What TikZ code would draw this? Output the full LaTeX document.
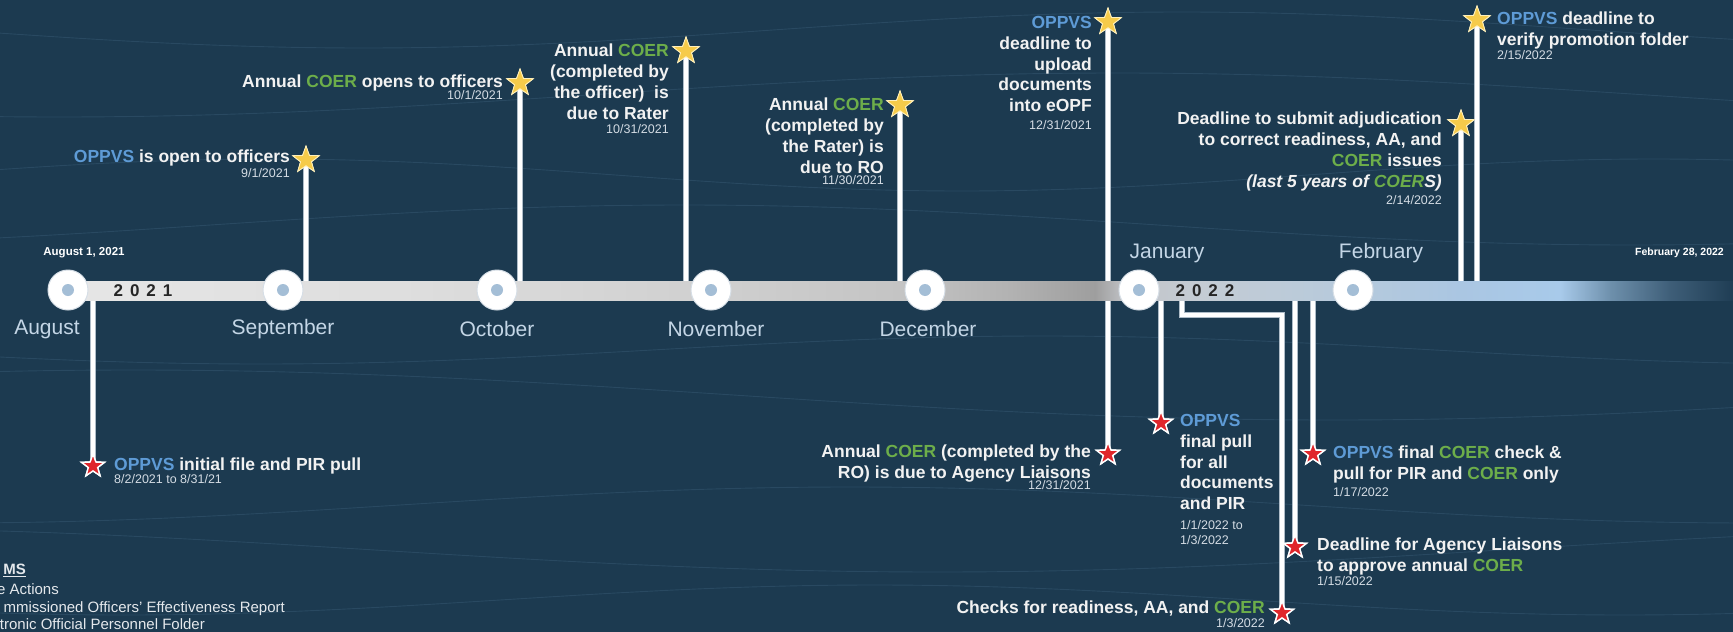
\documentclass[tikz,border=0pt]{standalone}
\usepackage{fontspec}
\setmainfont{Liberation Sans}
\usetikzlibrary{shapes.geometric}
\definecolor{bg}{HTML}{1C3A50}
\definecolor{txtw}{HTML}{F2F2F2}
\definecolor{datec}{HTML}{D4DCE4}
\definecolor{monthc}{HTML}{C4D6E6}
\definecolor{legc}{HTML}{E4E8EC}
\definecolor{oppvsblue}{HTML}{5E9BD6}
\definecolor{coergreen}{HTML}{6DAE4A}
\definecolor{starY}{HTML}{F6CB4A}
\definecolor{starYedge}{HTML}{FFF0BC}
\definecolor{starR}{HTML}{E0262B}
\definecolor{stemedge}{HTML}{AEBCC8}
\definecolor{circedge}{HTML}{D6DEE6}
\definecolor{dotc}{HTML}{A4BED6}
\definecolor{contourc}{HTML}{3A5C76}
\definecolor{b0}{HTML}{E6E6E6}
\definecolor{b1}{HTML}{DEDEDE}
\definecolor{b2}{HTML}{D0D0D0}
\definecolor{b3}{HTML}{C4C4C4}
\definecolor{b4}{HTML}{B2B2B2}
\definecolor{b5}{HTML}{9E9E9E}
\definecolor{b6}{HTML}{C2C4C8}
\definecolor{b7}{HTML}{C4CCD4}
\definecolor{b8}{HTML}{B6CADC}
\definecolor{b9}{HTML}{AAC6E2}
\definecolor{b10}{HTML}{A8CAEA}
\definecolor{b11}{HTML}{6E90AC}
\definecolor{b12}{HTML}{3E5E78}
\definecolor{b13}{HTML}{1F3D54}
\newcommand\OPPVS{\textcolor{oppvsblue}{OPPVS}}
\newcommand\COER{\textcolor{coergreen}{COER}}
\begin{document}
\begin{tikzpicture}[x=1pt,y=-1pt,
  stem/.style={draw=stemedge, double=white, double distance=3.6pt, line width=0.9pt},
  ystar/.style={star, star points=5, star point ratio=2.45, minimum size=28pt, inner sep=0pt, fill=starY, draw=starYedge, line width=0.8pt},
  rstar/.style={star, star points=5, star point ratio=2.45, minimum size=24pt, inner sep=0pt, fill=starR, draw=white, line width=1.4pt},
  mcirc/.style={circle, minimum size=40pt, inner sep=0pt, fill=white, draw=circedge, line width=1pt},
  lbl/.style={font=\fontsize{17.5}{20.8}\selectfont\bfseries, text=txtw, inner sep=0pt},
  lblr/.style={lbl, align=right, anchor=north east},
  lbll/.style={lbl, align=left, anchor=north west},
  dt/.style={font=\fontsize{12.5}{15}\selectfont, text=datec, inner sep=0pt},
  dtr/.style={dt, anchor=mid east},
  dtl/.style={dt, anchor=mid west},
  month/.style={font=\fontsize{21}{24}\selectfont, text=monthc, inner sep=0pt},
  yr/.style={font=\fontsize{17}{20}\selectfont\bfseries, text=black!85, inner sep=0pt},
  edgedate/.style={font=\fontsize{11.5}{14}\selectfont\bfseries, text=white, inner sep=0pt},
  legend/.style={font=\fontsize{15}{18}\selectfont, text=legc, inner sep=0pt, anchor=mid east},
  contour/.style={draw=contourc, line width=0.9pt, opacity=0.45}
]
\useasboundingbox (0,0) rectangle (1733,632);
\clip (0,0) rectangle (1733,632);
\fill[bg] (0,0) rectangle (1733,632);

% faint contour lines
\foreach \c/\a/\f/\p in {30/18/0.22/10, 95/22/0.17/80, 175/16/0.26/200, 225/20/0.19/140, 350/14/0.23/30, 395/25/0.15/250, 505/18/0.2/100, 550/22/0.16/300, 600/15/0.24/60}
  \draw[contour] plot[domain=0:1733, samples=70, smooth] (\x,{\c+\a*sin(\f*\x+\p)});

% month circles positions
\coordinate (pAug) at (68,290);
\coordinate (pSep) at (283,290);
\coordinate (pOct) at (497,290);
\coordinate (pNov) at (711,290);
\coordinate (pDec) at (925,290);
\coordinate (pJan) at (1139,290);
\coordinate (pFeb) at (1353,290);

% stars
\node[ystar] (y1) at (306,160) {};
\node[ystar] (y2) at (520,83) {};
\node[ystar] (y3) at (686,51) {};
\node[ystar] (y4) at (900,105) {};
\node[ystar] (y5) at (1108,22) {};
\node[ystar] (y6) at (1461,124) {};
\node[ystar] (y7) at (1477,20) {};
\node[rstar] (r1) at (93,466) {};
\node[rstar] (r2) at (1108,454) {};
\node[rstar] (r3) at (1161,423) {};
\node[rstar] (r4) at (1282,613) {};
\node[rstar] (r5) at (1295,547) {};
\node[rstar] (r6) at (1313,454) {};

% bar anchor points
\coordinate (t1) at (306,283);
\coordinate (t2) at (520,283);
\coordinate (t3) at (686,283);
\coordinate (t4) at (900,283);
\coordinate (t6) at (1461,283);
\coordinate (t7) at (1477,283);
\coordinate (u1) at (93,298);
\coordinate (u3) at (1161,298);
\coordinate (u4) at (1182,298);
\coordinate (k4) at (1282,315);
\coordinate (u5) at (1295,298);
\coordinate (u6) at (1313,298);

% stems
\draw[stem] (y5.center) -- (r2.center);
\draw[stem] (t1) -- (y1.center);
\draw[stem] (t2) -- (y2.center);
\draw[stem] (t3) -- (y3.center);
\draw[stem] (t4) -- (y4.center);
\draw[stem] (t6) -- (y6.center);
\draw[stem] (t7) -- (y7.center);
\draw[stem] (u1) -- (r1.center);
\draw[stem] (u3) -- (r3.center);
\draw[stem] (u4) |- (k4) -- (r4.center);
\draw[stem] (u5) -- (r5.center);
\draw[stem] (u6) -- (r6.center);

% timeline bar
\foreach \xa/\ca/\xb/\cb in {68/b0/400/b1, 400/b1/700/b2, 700/b2/900/b3, 900/b3/1010/b4, 1010/b4/1095/b5, 1095/b5/1125/b6, 1125/b6/1200/b7, 1200/b7/1350/b8, 1350/b8/1460/b9, 1460/b9/1560/b10, 1560/b10/1610/b11, 1610/b11/1670/b12, 1670/b12/1733/b13}
  \shade[left color=\ca, right color=\cb] (\xa,281) rectangle ({\xb+0.6},300);

% circles
\foreach \m in {Aug,Sep,Oct,Nov,Dec,Jan,Feb} {
  \node[mcirc] (c\m) at (p\m) {};
  \fill[dotc] (c\m.center) circle (6);
}

% redraw stars on top
\foreach \s in {y1,y2,y3,y4,y5,y6,y7}
  \node[ystar] at (\s.center) {};
\foreach \s in {r1,r2,r3,r4,r5,r6}
  \node[rstar] at (\s.center) {};

% year labels
\node[yr] (yr1) at (143,291) {2\hspace{7pt}0\hspace{7pt}2\hspace{7pt}1};
\node[yr] (yr2) at (1205,291) {2\hspace{7pt}0\hspace{7pt}2\hspace{7pt}2};

% edge dates
\node[edgedate] (e1) at (84,253) {August 1, 2021};
\node[edgedate, font=\fontsize{10.5}{13}\selectfont\bfseries, anchor=east] (e2) at (1724,253) {February 28, 2022};

% month labels
\node[month] (mAug) at (47,329) {August};
\node[month] (mSep) at (283,329) {September};
\node[month] (mOct) at (497,329) {October};
\node[month] (mNov) at (716,329) {November};
\node[month] (mDec) at (928,329) {December};
\node[month] (mJan) at (1167,253) {January};
\node[month] (mFeb) at (1381,253) {February};

% upper labels
\node[lblr] (L1) at (290,150) {\OPPVS{} is open to officers};
\node[dtr] (D1) at (290,175) {9/1/2021};
\node[lblr] (L2) at (503,75) {Annual \COER{} opens to officers};
\node[dtr] (D2) at (503,97) {10/1/2021};
\node[lblr] (L3) at (669,44) {Annual \COER\\(completed by\\the officer)\ \ is\\due to Rater};
\node[dtr] (D3) at (669,131) {10/31/2021};
\node[lblr] (L4) at (884,98) {Annual \COER\\(completed by\\the Rater) is\\due to RO};
\node[dtr] (D4) at (884,182) {11/30/2021};
\node[lblr] (L5) at (1092,16) {\OPPVS\\deadline to\\upload\\documents\\into eOPF};
\node[dtr] (D5) at (1092,127) {12/31/2021};
\node[lblr] (L6) at (1442,112) {Deadline to submit adjudication\\to correct readiness, AA, and\\\COER{} issues\\\textit{(last 5 years of \COER S)}};
\node[dtr] (D6) at (1442,202) {2/14/2022};
\node[lbll] (L7) at (1497,12) {\OPPVS{} deadline to\\verify promotion folder};
\node[dtl] (D7) at (1497,57) {2/15/2022};

% lower labels
\node[lbll] (M1) at (114,458) {\OPPVS{} initial file and PIR pull};
\node[dtl] (E1) at (114,481) {8/2/2021 to 8/31/21};
\node[lblr] (M2) at (1091,445) {Annual \COER{} (completed by the\\RO) is due to Agency Liaisons};
\node[dtr] (E2) at (1091,487) {12/31/2021};
\node[lbll] (M3) at (1180,414) {\OPPVS\\final pull\\for all\\documents\\and PIR};
\node[dt, align=left, anchor=north west] (E3) at (1180,520) {1/1/2022 to\\1/3/2022};
\node[lblr] (M4) at (1265,601) {Checks for readiness, AA, and \COER};
\node[dtr] (E4) at (1265,625) {1/3/2022};
\node[lbll] (M5) at (1317,538) {Deadline for Agency Liaisons\\to approve annual \COER};
\node[dtl] (E5) at (1317,583) {1/15/2022};
\node[lbll] (M6) at (1333,446) {\OPPVS{} final \COER{} check \&\\pull for PIR and \COER{} only};
\node[dtl] (E6) at (1333,494) {1/17/2022};

% legend (cut at left edge)
\node[legend, font=\fontsize{15}{18}\selectfont\bfseries] (g0) at (26,572) {\underline{MS}};
\node[legend] (g1) at (59,592) {e Actions};
\node[legend] (g2) at (285,610) {mmissioned Officers' Effectiveness Report};
\node[legend] (g3) at (205,627) {tronic Official Personnel Folder};
\end{tikzpicture}
\end{document}
